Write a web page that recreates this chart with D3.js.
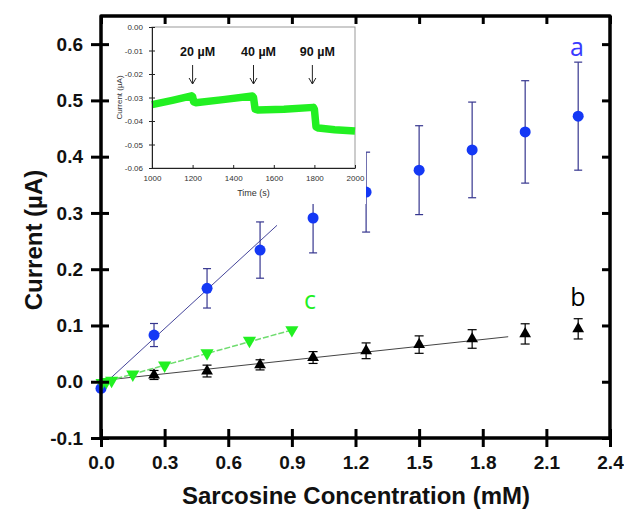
<!DOCTYPE html>
<html><head><meta charset="utf-8">
<script src="https://cdn.jsdelivr.net/npm/d3@7"></script>
<style>
html,body{margin:0;padding:0;background:#fff;}
svg{display:block;}
</style></head>
<body>
<svg id="chart" width="624" height="510"></svg>
<script>
// ---- main chart data ----
const xTicks = [0, 0.3, 0.6, 0.9, 1.2, 1.5, 1.8, 2.1, 2.4];
const yTicks = [-0.1, 0, 0.1, 0.2, 0.3, 0.4, 0.5, 0.6];

const concA = [0, 0.25, 0.5, 0.75, 1.0, 1.25, 1.5, 1.75, 2.0, 2.25];
const currA = [-0.012, 0.083, 0.166, 0.234, 0.291, 0.337, 0.376, 0.412, 0.444, 0.472];
const errA  = [0, 0.0205, 0.035, 0.05, 0.062, 0.071, 0.079, 0.085, 0.091, 0.096];

const concB = [0.25, 0.5, 0.75, 1.0, 1.25, 1.5, 1.75, 2.0, 2.25];
const currB = [0.012, 0.019, 0.030, 0.043, 0.055, 0.066, 0.076, 0.085, 0.094];
const errB  = [0.008, 0.0105, 0.009, 0.0105, 0.014, 0.0155, 0.0165, 0.018, 0.018];

const concC = [0.005, 0.025, 0.05, 0.15, 0.3, 0.5, 0.7, 0.9];
const currC = [-0.002, 0.0, 0.002, 0.013, 0.029, 0.051, 0.073, 0.092];

const fitAx = [0.03, 0.83], fitAy = [0.001, 0.278];
const fitBx = [0.05, 1.92], fitBy = [0.004, 0.080];
const fitCx = [0.0, 0.92],  fitCy = [-0.002, 0.094];

// ---- inset data ----
const insetXTicks = [1000, 1200, 1400, 1600, 1800, 2000];
const insetYTicks = [0, -0.01, -0.02, -0.03, -0.04, -0.05, -0.06];
const insetTime = [1000, 1100, 1195, 1200, 1205, 1215, 1350, 1495, 1500, 1508, 1520, 1650, 1795, 1800, 1808, 1820, 1900, 2000];
const insetCurr = [-0.0330, -0.0312, -0.0293, -0.0296, -0.0318, -0.0322, -0.0309, -0.0294, -0.0300, -0.0350, -0.0353, -0.0350, -0.0342, -0.0350, -0.0425, -0.0430, -0.0437, -0.0443];
const additions = ["20 µM", "40 µM", "90 µM"];
const additionTimes = [1200, 1500, 1790];

const svg = d3.select("#chart");
const x = d3.scaleLinear().domain([0, 2.4]).range([101, 610]);
const y = d3.scaleLinear().domain([-0.1, 0.65]).range([438, 16]);

const blue = "#1438f5", navy = "#36368f", green = "#22f022";
const hy = f => (d => f(d).replace("\u2212", "-"));

// fit lines
const line = d3.line().x(d => x(d[0])).y(d => y(d[1]));
svg.append("path").attr("d", line(d3.zip(fitAx, fitAy))).attr("stroke", "#45459a").attr("stroke-width", 1).attr("fill", "none");
svg.append("path").attr("d", line(d3.zip(fitBx, fitBy))).attr("stroke", "#444").attr("stroke-width", 1).attr("fill", "none");
svg.append("path").attr("d", line(d3.zip(fitCx, fitCy))).attr("stroke", "#6fdc6f").attr("stroke-width", 1.5).attr("stroke-dasharray", "6,2").attr("fill", "none");

// error bars
function errBars(cx, cy, ce, color, cap) {
  const g = svg.append("g").attr("stroke", color).attr("stroke-width", 1.2);
  cx.forEach((c, i) => {
    if (!ce[i]) return;
    const X = x(c), t = y(cy[i] + ce[i]), b = y(cy[i] - ce[i]);
    g.append("line").attr("x1", X).attr("x2", X).attr("y1", t).attr("y2", b);
    g.append("line").attr("x1", X - cap).attr("x2", X + cap).attr("y1", t).attr("y2", t);
    g.append("line").attr("x1", X - cap).attr("x2", X + cap).attr("y1", b).attr("y2", b);
  });
}
errBars(concA, currA, errA, navy, 4);
errBars(concB, currB, errB, "#000", 4.5);

// markers
svg.append("g").selectAll("circle").data(d3.zip(concA, currA)).join("circle")
  .attr("cx", d => x(d[0])).attr("cy", d => y(d[1])).attr("r", 5.5).attr("fill", blue);
const tri = d3.symbol().type(d3.symbolTriangle).size(60);
svg.append("g").selectAll("path").data(d3.zip(concB, currB)).join("path")
  .attr("d", tri).attr("transform", d => `translate(${x(d[0])},${y(d[1])})`).attr("fill", "#000");
const triC = d3.symbol().type(d3.symbolTriangle).size(75);
svg.append("g").selectAll("path").data(d3.zip(concC, currC)).join("path")
  .attr("d", triC).attr("transform", d => `translate(${x(d[0])},${y(d[1])}) rotate(180)`).attr("fill", green);

// series labels
const lab = svg.append("g").attr("font-family", "'Open Sans', 'Liberation Sans', sans-serif").attr("font-size", 25).attr("text-anchor", "middle");
lab.append("text").attr("x", 577).attr("y", 56).attr("fill", "#3a3aff").text("a");
lab.append("text").attr("x", 578).attr("y", 306).attr("fill", "#000").text("b");
lab.append("text").attr("x", 310).attr("y", 309).attr("fill", green).text("c");

// ---- inset ----
svg.append("rect").attr("x", 111).attr("y", 19).attr("width", 255).attr("height", 185).attr("fill", "#fff");
const xi = d3.scaleLinear().domain([1000, 2000]).range([152, 355]);
const yi = d3.scaleLinear().domain([-0.06, 0]).range([168, 27]);
const ins = svg.append("g").attr("font-family", "'Liberation Sans', Arial, sans-serif");
ins.append("rect").attr("x", xi(1000)).attr("y", yi(0)).attr("width", xi(2000) - xi(1000)).attr("height", yi(-0.06) - yi(0))
  .attr("fill", "none").attr("stroke", "#999").attr("stroke-width", 1);
ins.append("path").attr("d", d3.line().x((d) => xi(d[0])).y(d => yi(d[1]))(d3.zip(insetTime, insetCurr)))
  .attr("fill", "none").attr("stroke", green).attr("stroke-width", 7.5).attr("stroke-linejoin", "round");
const axXi = ins.append("g").attr("transform", `translate(0,${yi(-0.06)})`)
  .call(d3.axisBottom(xi).tickValues(insetXTicks).tickFormat(d3.format("d")).tickSizeInner(-3).tickSizeOuter(0).tickPadding(7));
const axYi = ins.append("g").attr("transform", `translate(${xi(1000)},0)`)
  .call(d3.axisLeft(yi).tickValues(insetYTicks).tickFormat(hy(d3.format(".2f"))).tickSizeInner(3).tickSizeOuter(0).tickPadding(6));
[axXi, axYi].forEach(a => {
  a.select(".domain").attr("stroke", "#222");
  a.selectAll("line").attr("stroke", "#222");
  a.selectAll("text").attr("font-size", 8).attr("fill", "#333").attr("font-family", "'Liberation Sans', Arial, sans-serif");
});
axYi.selectAll(".tick line").attr("x1", 3);
ins.append("text").attr("x", (xi(1000) + xi(2000)) / 2).attr("y", 196).attr("text-anchor", "middle")
  .attr("font-size", 9).attr("fill", "#333").text("Time (s)");
ins.append("text").attr("transform", `translate(122,${(yi(0) + yi(-0.06)) / 2}) rotate(-90)`).attr("text-anchor", "middle")
  .attr("font-size", 8).attr("fill", "#333").text("Current (µA)");
additions.forEach((t, i) => {
  const X = xi(additionTimes[i]);
  ins.append("text").attr("x", X + 5).attr("y", 56).attr("text-anchor", "middle").attr("font-size", 12.5)
    .attr("font-weight", "bold").attr("fill", "#111").attr("font-family", "'Liberation Sans', Arial, sans-serif").text(t);
  ins.append("line").attr("x1", X).attr("x2", X).attr("y1", 65).attr("y2", 84).attr("stroke", "#222").attr("stroke-width", 1);
  ins.append("path").attr("d", `M${X - 3.5},${78} L${X},${84} L${X + 3.5},${78}`).attr("fill", "none").attr("stroke", "#222").attr("stroke-width", 1);
});

// ---- main frame & axes ----
const frame = svg.append("g");
frame.append("path").attr("d", `M${x(0)},${y(-0.1)} L${x(0)},${y(0.65)} L${x(2.4)},${y(0.65)} L${x(2.4)},${y(-0.1)} Z`)
  .attr("fill", "none").attr("stroke", "#000").attr("stroke-width", 3.5).attr("stroke-linejoin", "round");
const fmt = hy(d3.format(".1f"));
const axB = svg.append("g").attr("transform", `translate(0,${y(-0.1)})`)
  .call(d3.axisBottom(x).tickValues(xTicks).tickFormat(fmt).tickSizeOuter(0).tickSizeInner(9).tickPadding(9));
axB.selectAll(".tick line").attr("y1", -9);
const axL = svg.append("g").attr("transform", `translate(${x(0)},0)`)
  .call(d3.axisLeft(y).tickValues(yTicks).tickFormat(fmt).tickSizeOuter(0).tickSizeInner(10).tickPadding(8));
axL.selectAll(".tick line").attr("x1", 8);
const axT = svg.append("g").attr("transform", `translate(0,${y(0.65)})`)
  .call(d3.axisTop(x).tickValues(xTicks).tickFormat("").tickSizeOuter(0).tickSizeInner(-8));
const axR = svg.append("g").attr("transform", `translate(${x(2.4)},0)`)
  .call(d3.axisRight(y).tickValues(yTicks).tickFormat("").tickSizeOuter(0).tickSizeInner(-8));
[axB, axL, axT, axR].forEach(a => {
  a.select(".domain").remove();
  a.selectAll(".tick line").attr("stroke", "#000").attr("stroke-width", 3);
  a.selectAll("text").attr("font-family", "'Liberation Sans', Arial, sans-serif").attr("font-weight", "bold")
    .attr("font-size", 19).attr("fill", "#111");
});

svg.append("text").attr("x", 356).attr("y", 504).attr("text-anchor", "middle")
  .attr("font-family", "'Liberation Sans', Arial, sans-serif").attr("font-weight", "bold").attr("font-size", 24)
  .attr("fill", "#111").text("Sarcosine Concentration (mM)");
svg.append("text").attr("transform", "translate(42,240) rotate(-90)").attr("text-anchor", "middle")
  .attr("font-family", "'Liberation Sans', Arial, sans-serif").attr("font-weight", "bold").attr("font-size", 24)
  .attr("fill", "#111").text("Current (µA)");
</script>
</body></html>
